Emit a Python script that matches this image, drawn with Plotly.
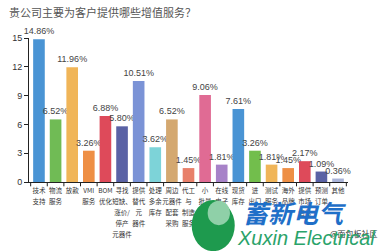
import plotly.graph_objects as go

categories = ["技术<br>支持", "物流<br>服务", "放款", "VMI<br>服务", "BOM<br>优化",
              "寻找<br>短缺、<br>涨价/<br>停产<br>元器件", "提供<br>替代<br>元<br>器件", "处理<br>多余<br>库存",
              "周边<br>元器件<br>配套<br>采购", "代工<br>与<br>制造<br>服务", "小<br>批量<br>出货",
              "在线<br>电子<br>商务", "现货<br>库存", "进<br>出口", "测试<br>服务", "海外<br>品牌",
              "提供<br>市场<br>信息", "预测<br>订单", "其他"]
values = [14.86, 6.52, 11.96, 3.26, 6.88, 5.80, 10.51, 3.62, 6.52, 1.45,
          9.06, 1.81, 7.61, 3.26, 1.81, 1.45, 2.17, 1.09, 0.36]
colors = ["#4a94d4", "#70bb55", "#f0b558", "#ee8f45", "#de4a5a", "#5a62a5", "#7b93d6",
          "#7dd3d8", "#d4a870", "#e8806a", "#e06b94", "#a782c8", "#4a94d4", "#72be4c",
          "#f0b558", "#ee8f45", "#de4a5a", "#5a62a5", "#aab4d8"]
labels = [f"{v:.2f}%" for v in values]
yticks = [0, 3, 6, 9, 12, 15]

ticktext = ["<br>".join(f"<span style='font-size:6.5px'>{p}</span>" for p in c.split("<br>"))
            for c in categories]

fig = go.Figure(go.Bar(
    x=list(range(len(categories))), y=values, marker_color=colors, marker_line_width=0,
    text=labels, textposition="outside", constraintext="none", cliponaxis=False,
    textfont=dict(size=9, color="#444", family="Liberation Sans, Arial"),
    width=0.7,
))

fig.update_layout(
    width=384, height=251, margin=dict(l=22, r=36, t=38, b=69),
    paper_bgcolor="white", plot_bgcolor="white", showlegend=False,
    font=dict(family="Noto Sans CJK SC, Liberation Sans", color="#333"),
    yaxis=dict(range=[0, 15], tickvals=yticks, showgrid=False, showline=True,
               linecolor="#222", linewidth=1, ticks="outside", ticklen=4, tickcolor="#222",
               tickfont=dict(size=9, color="#333", family="Liberation Sans, Arial"), zeroline=False),
    xaxis=dict(range=[-0.6, len(categories) - 0.4], tickvals=list(range(len(categories))),
               ticktext=ticktext, showline=True, linecolor="#222", linewidth=1,
               ticks="", tickangle=0,
               tickfont=dict(size=8.5, color="#333", family="Noto Sans CJK SC"), showgrid=False),
)

# boundary tick marks under the x axis
fig.update_layout(shapes=[dict(type="line", xref="x", yref="paper", x0=i - 0.5, x1=i - 0.5,
                               y0=0, y1=-0.03, line=dict(color="#222", width=1))
                          for i in range(len(categories) + 1)])

fig.add_annotation(text="贵公司主要为客户提供哪些增值服务？", xref="paper", yref="paper",
                   x=-22/326, y=1 + 26/144, xanchor="left", yanchor="middle", showarrow=False,
                   font=dict(size=11, color="#555", family="Noto Sans CJK SC"))

# watermark / logo
fig.add_shape(type="circle", xref="paper", yref="paper", x0=0.51, x1=0.645, y0=-0.48, y1=-0.125,
              fillcolor="#1e9a4e", line_width=0, layer="above")
fig.add_shape(type="circle", xref="paper", yref="paper", x0=0.56, x1=0.63, y0=-0.3, y1=-0.13,
              fillcolor="#8fd0a8", line_width=0, layer="above")
fig.add_annotation(text="<b><i>蓄新电气</i></b>", xref="paper", yref="paper",
                   x=0.665, y=-0.21, xanchor="left", yanchor="middle", showarrow=False,
                   font=dict(size=25, color="#1f6fc8", family="Noto Sans CJK SC"))
fig.add_annotation(text="@面包板社区", xref="paper", yref="paper",
                   x=1.1, y=-0.36, xanchor="right", yanchor="middle", showarrow=False,
                   font=dict(size=8, color="#333", family="Noto Sans CJK SC"))
fig.add_annotation(text="<i>Xuxin Electrical</i>", xref="paper", yref="paper",
                   x=0.645, y=-0.39, xanchor="left", yanchor="middle", showarrow=False,
                   font=dict(size=20, color="#2aa36a", family="Liberation Sans"))

fig.write_html("out.html")
